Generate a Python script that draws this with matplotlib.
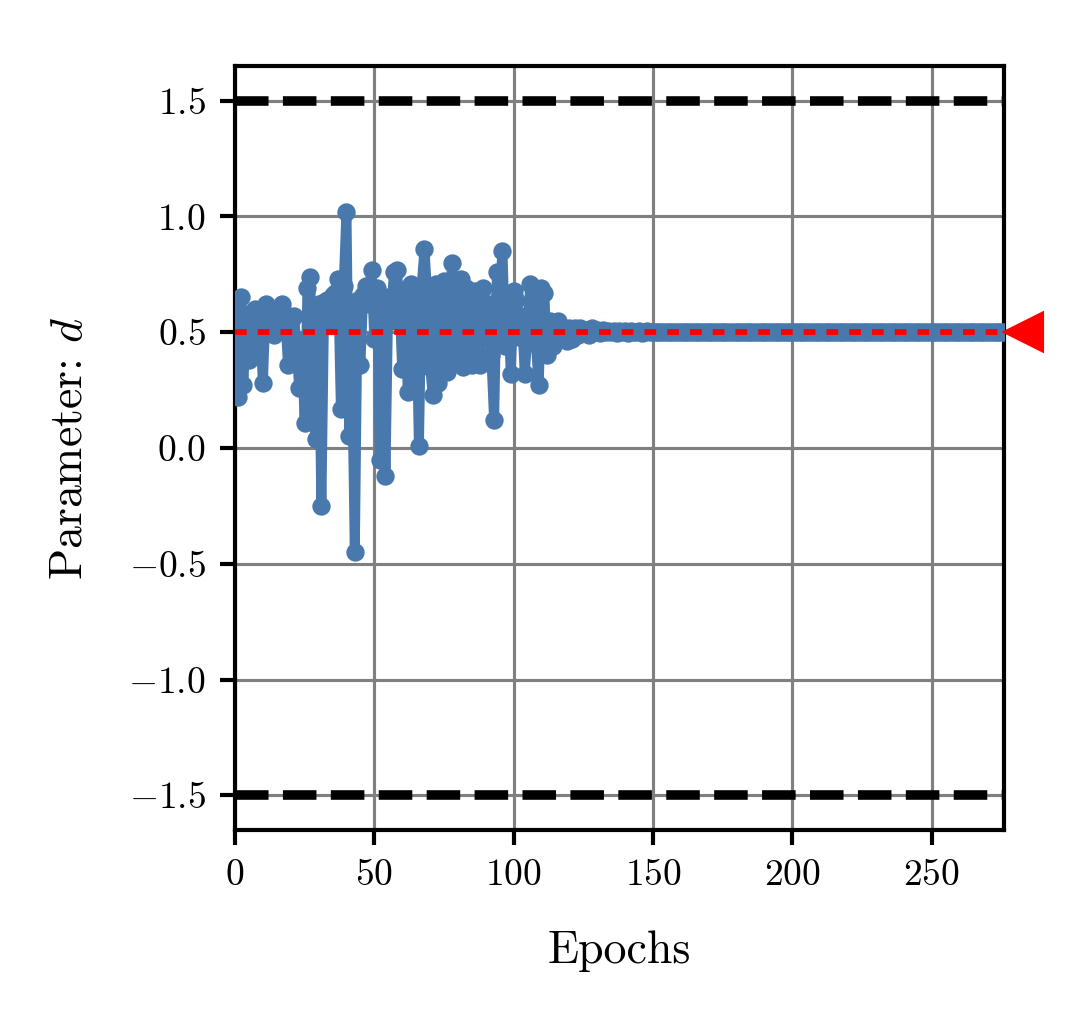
import matplotlib
matplotlib.use("Agg")
import matplotlib.pyplot as plt
import matplotlib.transforms as mtransforms
import numpy as np

plt.rcParams['font.family'] = 'serif'
plt.rcParams['font.serif'] = ['cmr10', 'DejaVu Serif']
plt.rcParams['mathtext.fontset'] = 'cm'
plt.rcParams['axes.formatter.use_mathtext'] = True

# parameter d per epoch
d_early = [0.60, 0.22, 0.65, 0.27, 0.58, 0.38, 0.45, 0.60, 0.42, 0.55,
           0.28, 0.62, 0.55, 0.50, 0.49, 0.55, 0.58, 0.62, 0.58, 0.36,
           0.55, 0.57, 0.47, 0.26, 0.45, 0.11, 0.69, 0.74, 0.15, 0.04,
           0.62, -0.25, 0.63, 0.64, 0.55, 0.66, 0.67, 0.73, 0.17, 0.70,
           1.02, 0.05, 0.36, -0.45, 0.64, 0.36, 0.66, 0.70, 0.62, 0.77,
           0.47, 0.69, -0.05, 0.60, -0.12, 0.65, 0.55, 0.76, 0.77, 0.65,
           0.34, 0.68, 0.24, 0.71, 0.44, 0.65, 0.01, 0.70, 0.86, 0.66,
           0.35, 0.23, 0.71, 0.28, 0.66, 0.72, 0.33, 0.64, 0.80, 0.38,
           0.60, 0.73, 0.35, 0.69, 0.47, 0.36, 0.68, 0.62, 0.36, 0.69,
           0.50, 0.62, 0.40, 0.12, 0.76, 0.66, 0.85, 0.44, 0.60, 0.32,
           0.68, 0.64, 0.48, 0.57, 0.32, 0.50, 0.71, 0.69, 0.45, 0.27,
           0.69, 0.67, 0.40, 0.55, 0.44, 0.53, 0.55, 0.48, 0.50, 0.46,
           0.52, 0.47, 0.52, 0.49, 0.52, 0.50, 0.51, 0.49, 0.52, 0.50,
           0.51, 0.495, 0.51, 0.50, 0.505, 0.50, 0.505, 0.495, 0.505, 0.50,
           0.505, 0.495, 0.505, 0.50, 0.50, 0.505, 0.495, 0.50, 0.505, 0.50]
d_late = [0.50] * 127
d_values = d_early + d_late
epochs = list(range(len(d_values)))

d_true = 0.5
d_bounds = [-1.5, 1.5]

fig = plt.figure(figsize=(3.6, 3.43), dpi=300)
ax = fig.add_axes([0.2176, 0.1934, 0.712, 0.7425])

ax.grid(True, color='gray', linewidth=0.75)
ax.set_axisbelow(True)

ax.plot(epochs, d_values, color='#4878ac', linewidth=2.4, marker='o',
        markersize=3.4, zorder=3)
ax.axhline(d_true, color='red', linestyle=(0, (2.0, 1.9)), linewidth=1.4, zorder=4)
for b in d_bounds:
    ax.axhline(b, color='black', linestyle=(0, (3.5, 1.5)), linewidth=2.3, zorder=4)

trans = mtransforms.blended_transform_factory(ax.transAxes, ax.transData)
ax.plot([1.026], [d_true], marker='<', color='red', markersize=8.5,
        transform=trans, clip_on=False, zorder=5)

ax.set_xlim(0, len(d_values) - 1)
ax.set_ylim(-1.65, 1.65)
ax.set_xticks([0, 50, 100, 150, 200, 250])
ax.set_yticks([-1.5, -1.0, -0.5, 0.0, 0.5, 1.0, 1.5])
ax.tick_params(labelsize=9, width=1.0, length=3.5)
for s in ax.spines.values():
    s.set_linewidth(1.0)

ax.set_xlabel('Epochs', fontsize=11, labelpad=9)
ax.set_ylabel('Parameter: $d$', fontsize=11, labelpad=9)

fig.savefig('out.png', dpi=300)
